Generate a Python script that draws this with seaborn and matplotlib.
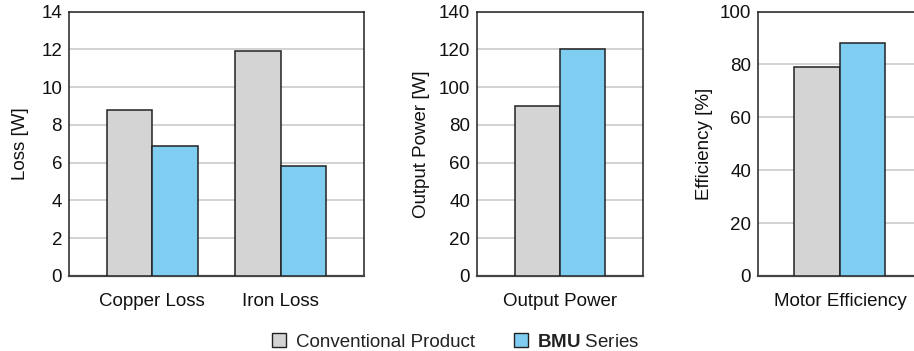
import matplotlib
matplotlib.use("Agg")
import matplotlib.pyplot as plt
from matplotlib.patches import Patch
import seaborn as sns
import pandas as pd

# Values per panel
loss_categories = ["Copper Loss", "Iron Loss"]
loss_conventional = [8.8, 11.9]
loss_bmu = [6.9, 5.8]

power_categories = ["Output Power"]
power_conventional = [90]
power_bmu = [120]

eff_categories = ["Motor Efficiency"]
eff_conventional = [79]
eff_bmu = [88]

series_names = ["Conventional Product", "BMU Series"]
series_colors = ["#d4d4d4", "#7fcef1"]

sns.set_theme(style="white")
plt.rcParams["font.family"] = ["Liberation Sans", "DejaVu Sans"]
plt.rcParams["mathtext.fontset"] = "custom"
plt.rcParams["mathtext.bf"] = "Liberation Sans:bold"
plt.rcParams["mathtext.rm"] = "Liberation Sans"

FS = 13.5


def make_frame(categories, conv, bmu):
    rows = []
    for c, a, b in zip(categories, conv, bmu):
        rows.append({"category": c, "series": series_names[0], "value": a})
        rows.append({"category": c, "series": series_names[1], "value": b})
    return pd.DataFrame(rows)


fig = plt.figure(figsize=(9.14, 3.51), dpi=100)
bottom = 1 - 276 / 351
height = (276 - 11.5) / 351
ax1 = fig.add_axes([69 / 914, bottom, 295 / 914, height])
ax2 = fig.add_axes([477 / 914, bottom, 166 / 914, height])
ax3 = fig.add_axes([758 / 914, bottom, 166 / 914, height])

panels = [
    (ax1, make_frame(loss_categories, loss_conventional, loss_bmu), 14, 2,
     "Loss [W]", (-0.65, 1.65), -0.136),
    (ax2, make_frame(power_categories, power_conventional, power_bmu), 140, 20,
     "Output Power [W]", (-0.646, 0.646), -0.282),
    (ax3, make_frame(eff_categories, eff_conventional, eff_bmu), 100, 20,
     "Efficiency [%]", (-0.638, 0.654), -0.274),
]

for ax, df, ymax, step, ylabel, xlim, label_x in panels:
    sns.barplot(data=df, x="category", y="value", hue="series",
                palette=series_colors, saturation=1, width=0.708, gap=0,
                edgecolor="#222222", linewidth=1.1, legend=False, ax=ax,
                errorbar=None, zorder=3)
    ax.set_xlim(*xlim)
    ax.set_ylim(0, ymax)
    ax.set_yticks(range(0, ymax + 1, step))
    ax.yaxis.grid(True, color="#c6c6c6", linewidth=1.1, zorder=0)
    ax.set_axisbelow(True)
    ax.set_xlabel("")
    ax.set_ylabel(ylabel, fontsize=FS, color="#111111")
    ax.yaxis.set_label_coords(label_x, 0.5)
    ax.tick_params(axis="y", length=0, pad=5, labelsize=FS, labelcolor="#111111")
    ax.tick_params(axis="x", length=0, pad=12, labelsize=FS, labelcolor="#111111")
    for side in ["top", "right", "left"]:
        ax.spines[side].set_color("#222222")
        ax.spines[side].set_linewidth(1.1)
    ax.spines["bottom"].set_color("#444444")
    ax.spines["bottom"].set_linewidth(1.6)

handles = [Patch(facecolor=series_colors[0], edgecolor="#222222", linewidth=1.0),
           Patch(facecolor=series_colors[1], edgecolor="#222222", linewidth=1.0)]
labels = ["Conventional Product", r"$\mathbf{BMU}$ Series"]
fig.legend(handles, labels, loc="center", bbox_to_anchor=(456 / 914, 1 - 342 / 351),
           ncol=2, frameon=False, fontsize=FS, handlelength=0.75, handleheight=0.75,
           handletextpad=0.5, columnspacing=2.1, labelcolor="#222222")

fig.savefig("out.png", dpi=100)
